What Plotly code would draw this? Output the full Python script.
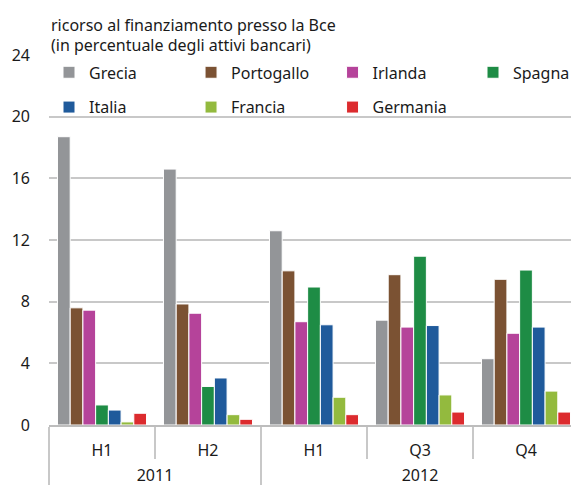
import plotly.graph_objects as go

years = ["2011", "2011", "2012", "2012", "2012"]
periods = ["H1", "H2", "H1", "Q3", "Q4"]
countries = ["Grecia", "Portogallo", "Irlanda", "Spagna", "Italia", "Francia", "Germania"]
colors = ["#939598", "#7b5233", "#b5439a", "#1e8c45", "#1f5a9b", "#93ba3e", "#dc2b2e"]

grecia = [18.7, 16.6, 12.6, 6.8, 4.3]
portogallo = [7.6, 7.85, 10.0, 9.75, 9.45]
irlanda = [7.45, 7.25, 6.7, 6.35, 5.95]
spagna = [1.3, 2.5, 8.95, 10.95, 10.05]
italia = [0.97, 3.05, 6.5, 6.45, 6.35]
francia = [0.2, 0.67, 1.8, 1.95, 2.2]
germania = [0.76, 0.37, 0.67, 0.84, 0.84]

series = [grecia, portogallo, irlanda, spagna, italia, francia, germania]
legend_ids = ["legend", "legend2", "legend3", "legend4", "legend", "legend2", "legend3"]

FONT = "Noto Sans"
TXT = "#1a1a1a"

# invisible padding that makes the inner label row taller, pushing the year row down
PAD = "<span style='font-size:24px'>&nbsp;</span>"
inner_labels = [PAD + p + PAD for p in periods]

fig = go.Figure()
for name, vals, col, lg in zip(countries, series, colors, legend_ids):
    fig.add_trace(go.Bar(
        x=[years, inner_labels], y=vals, name=name,
        marker=dict(color=col, line=dict(color="white", width=1)),
        legend=lg, legendgroup=name,
    ))

leg_common = dict(
    orientation="v", yanchor="top", y=0.999, xanchor="left",
    bgcolor="rgba(0,0,0,0)", borderwidth=0,
    font=dict(family=FONT, size=16, color=TXT),
    tracegroupgap=11, itemwidth=30,
)

fig.update_layout(
    width=571, height=477,
    margin=dict(l=41, r=0, t=47, b=60),
    paper_bgcolor="white", plot_bgcolor="white",
    font=dict(family=FONT, size=16, color=TXT),
    barmode="group", bargap=0.16, bargroupgap=0,
    showlegend=True,
    legend=dict(x=0.0, **leg_common),
    legend2=dict(x=0.268, **leg_common),
    legend3=dict(x=0.535, **leg_common),
    legend4=dict(x=0.80, **leg_common),
    yaxis=dict(
        range=[0, 24], dtick=4, showgrid=True, gridcolor="#c8c8c8", gridwidth=1.5,
        zeroline=False, showline=False, ticks="", ticklabelstandoff=18,
        tickfont=dict(family=FONT, size=16, color=TXT),
    ),
    xaxis=dict(
        type="multicategory", showgrid=False, showline=True, linecolor="#bdbdbd", linewidth=2,
        ticks="outside", tickson="boundaries", ticklen=32, tickcolor="#c8c8c8", tickwidth=1.5,
        ticklabelstandoff=10,
        dividercolor="#c8c8c8", dividerwidth=1.5,
        tickfont=dict(family=FONT, size=16, color=TXT),
    ),
    annotations=[
        dict(xref="paper", yref="paper", x=0, y=1 + 30 / 370, xanchor="left", yanchor="middle",
             align="left", showarrow=False,
             text="ricorso al finanziamento presso la Bce",
             font=dict(family=FONT, size=16, color=TXT)),
        dict(xref="paper", yref="paper", x=0, y=1 + 10 / 370, xanchor="left", yanchor="middle",
             align="left", showarrow=False,
             text="(in percentuale degli attivi bancari)",
             font=dict(family=FONT, size=16, color=TXT)),
    ],
)

fig.write_html("out.html")
